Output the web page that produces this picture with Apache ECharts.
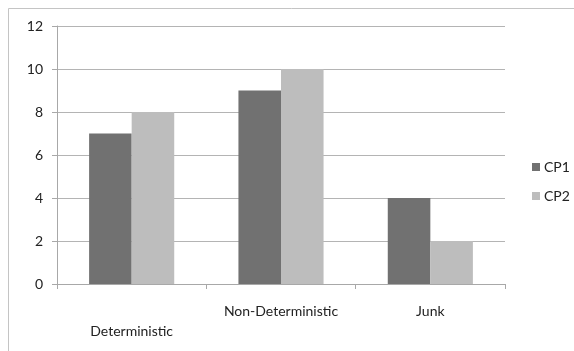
<!DOCTYPE html>
<html>
<head>
<meta charset="utf-8">
<script src="https://cdn.jsdelivr.net/npm/echarts@6/dist/echarts.min.js"></script>
<style>
  html, body { margin: 0; padding: 0; background: #fff; }
  #chart { width: 574px; height: 351px; }
</style>
</head>
<body>
<div id="chart"></div>
<script>
const categories = ['Deterministic', 'Non-Deterministic', 'Junk'];
const cp1 = [7, 9, 4];
const cp2 = [8, 10, 2];
const seriesNames = ['CP1', 'CP2'];

const font = 'Lato, "Open Sans", sans-serif';
const chart = echarts.init(document.getElementById('chart'), null, { renderer: 'canvas' });

chart.setOption({
  animation: false,
  backgroundColor: '#ffffff',
  graphic: [{
    type: 'rect',
    shape: { x: 8.5, y: 8.5, width: 700, height: 500 },
    style: { fill: 'none', stroke: '#c4c4c4', lineWidth: 1 },
    silent: true
  }],
  grid: { left: 57, right: 69, top: 26, bottom: 67 },
  legend: {
    orient: 'vertical',
    left: 532,
    top: 160,
    padding: 0,
    itemWidth: 8,
    itemHeight: 8,
    itemGap: 15,
    icon: 'rect',
    textStyle: { fontFamily: font, fontSize: 14, color: '#222', padding: [0, 0, 0, -1] },
    data: seriesNames
  },
  xAxis: {
    type: 'category',
    data: categories,
    axisLine: { lineStyle: { color: '#a8a8a8', width: 1 } },
    axisTick: { show: true, length: 5, alignWithLabel: false, lineStyle: { color: '#a8a8a8' } },
    axisLabel: {
      fontFamily: font,
      fontSize: 14,
      color: '#222',
      margin: 17,
      lineHeight: 20,
      interval: 0,
      formatter: (v, i) => (i === 0 ? '\n' + v : v)
    }
  },
  yAxis: {
    type: 'value',
    min: 0,
    max: 12,
    interval: 2,
    axisLine: { show: true, lineStyle: { color: '#a8a8a8' } },
    axisTick: { show: true, length: 5, lineStyle: { color: '#a8a8a8' } },
    splitLine: { lineStyle: { color: '#b4b4b4', width: 1 } },
    axisLabel: { fontFamily: font, fontSize: 14, color: '#222', margin: 14 }
  },
  series: [
    {
      name: seriesNames[0],
      type: 'bar',
      data: cp1,
      itemStyle: { color: '#717171' },
      barGap: '0%',
      barCategoryGap: '43%'
    },
    {
      name: seriesNames[1],
      type: 'bar',
      data: cp2,
      itemStyle: { color: '#bdbdbd' },
      barGap: '0%',
      barCategoryGap: '43%'
    }
  ]
});
</script>
</body>
</html>
